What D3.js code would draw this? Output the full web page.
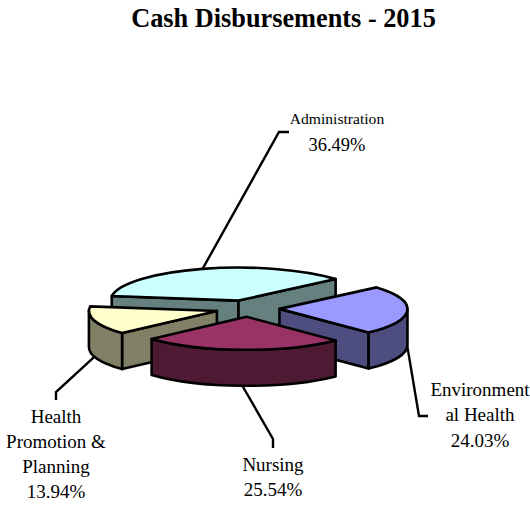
<!DOCTYPE html>
<html>
<head>
<meta charset="utf-8">
<script src="https://cdn.jsdelivr.net/npm/d3@7"></script>
<style>
  html, body { margin: 0; padding: 0; background: #fff; }
  text { font-family: "Liberation Serif", serif; fill: #000; }
</style>
</head>
<body>
<div id="chart"></div>
<script>
// Chart values, in pie order (clockwise)
var categories = ['Administration', 'Environmental Health', 'Nursing', 'Health Promotion & Planning'];
var shares = [36.49, 24.03, 25.54, 13.94];
var shareLabels = ['36.49%', '24.03%', '25.54%', '13.94%'];
var topColors = ['#CCFFFF', '#9999FF', '#993366', '#FFFFCC'];
var sideColors = ['#668080', '#4D4D80', '#4D1933', '#808066'];

// Wrapped the way the picture wraps them
var labelLines = [
    ['Administration', '36.49%'],
    ['Environment', 'al Health', '24.03%'],
    ['Nursing', '25.54%'],
    ['Health', 'Promotion &', 'Planning', '13.94%']
];

var width = 530, height = 508;

// Pie geometry
var cx = 247.5, cy = 308.5;
var rx = 128, ry = 33;
var depth = 36;
var explode = 0.25;
var startDeg = -82; // d3.pie angles start at 12 o'clock

// Label layout: knee and end of each leader, then text centre, first baseline, line step, font sizes
var labelLayout = [
    { knee: [279, 132], end: [289, 132], x: 337, y: 124, step: 27, size: 15.6, lastSize: 18.5 },
    { knee: [419, 416], end: [428, 416], x: 480, y: 395.5, step: 25.5, size: 19, lastSize: 19 },
    { knee: [273, 439], end: [273, 448], x: 273, y: 470.5, step: 25.5, size: 19, lastSize: 19 },
    { knee: [56, 392], end: [56, 400], x: 56, y: 422.5, step: 25.3, size: 19, lastSize: 19 }
];

var drawOrder = [0, 3, 1, 2]; // back to front

var svg = d3.select('#chart')
    .append('svg')
    .attr('width', width)
    .attr('height', height)
    .style('display', 'block');

svg.append('text')
    .attr('x', 283.5)
    .attr('y', 27)
    .attr('text-anchor', 'middle')
    .style('font-weight', 'bold')
    .style('font-size', '26.3px')
    .text('Cash Disbursements - 2015');

var pie = d3.pie()
    .sort(null)
    .startAngle(startDeg * Math.PI / 180)
    .endAngle((startDeg + 360) * Math.PI / 180);

var slices = pie(shares).map(function(d, i) {
    // Screen parameter: 0 is 3 o'clock, increasing clockwise
    var t0 = d.startAngle - Math.PI / 2;
    var t1 = d.endAngle - Math.PI / 2;
    var mid = (t0 + t1) / 2;
    return {
        index: i,
        t0: t0,
        t1: t1,
        mid: mid,
        ox: cx + rx * explode * Math.cos(mid),
        oy: cy + ry * explode * Math.sin(mid)
    };
});

function rim(s, t) {
    return [s.ox + rx * Math.cos(t), s.oy + ry * Math.sin(t)];
}

function topPath(s) {
    var a = rim(s, s.t0), b = rim(s, s.t1);
    var large = s.t1 - s.t0 > Math.PI ? 1 : 0;
    return 'M' + s.ox + ',' + s.oy + 'L' + a + 'A' + rx + ',' + ry + ' 0 ' + large + ' 1 ' + b + 'Z';
}

function facePath(s, t) {
    var p = rim(s, t);
    return 'M' + s.ox + ',' + s.oy + 'L' + p + 'L' + [p[0], p[1] + depth] +
        'L' + [s.ox, s.oy + depth] + 'Z';
}

// Outer wall, only the part facing the viewer (between 3 and 9 o'clock)
function wallPath(s) {
    var a = Math.max(s.t0, 0), b = Math.min(s.t1, Math.PI);
    if (b <= a) return null;
    var p = rim(s, a), q = rim(s, b);
    return 'M' + p + 'A' + rx + ',' + ry + ' 0 0 1 ' + q +
        'L' + [q[0], q[1] + depth] +
        'A' + rx + ',' + ry + ' 0 0 0 ' + [p[0], p[1] + depth] + 'Z';
}

var line = d3.line();

// Leaders first, the slices sit on top of their ends
slices.forEach(function(s) {
    var p = rim(s, s.mid);
    var facing = Math.sin(s.mid) > -0.1 ? depth : 0;
    var lay = labelLayout[s.index];
    svg.append('path')
        .attr('d', line([[p[0], p[1] + facing], lay.knee, lay.end]))
        .attr('fill', 'none')
        .attr('stroke', '#000')
        .attr('stroke-width', 2.4);
});

drawOrder.forEach(function(i) {
    var s = slices[i];
    var g = svg.append('g').attr('class', 'slice')
        .attr('stroke', '#000')
        .attr('stroke-width', 2.6)
        .attr('stroke-linejoin', 'round');

    // Cut faces, drawn only when they turn toward the viewer
    if (Math.sin(s.t0 - Math.PI / 2) > 0) {
        g.append('path').attr('d', facePath(s, s.t0)).attr('fill', sideColors[i]);
    }
    if (Math.sin(s.t1 + Math.PI / 2) > 0) {
        g.append('path').attr('d', facePath(s, s.t1)).attr('fill', sideColors[i]);
    }
    var wall = wallPath(s);
    if (wall) {
        g.append('path').attr('d', wall).attr('fill', sideColors[i]);
    }
    g.append('path').attr('d', topPath(s)).attr('fill', topColors[i]);
});

// Data labels
labelLines.forEach(function(lines, i) {
    var lay = labelLayout[i];
    lines.forEach(function(txt, k) {
        svg.append('text')
            .attr('x', lay.x)
            .attr('y', lay.y + k * lay.step)
            .attr('text-anchor', 'middle')
            .style('font-size', (k === lines.length - 1 ? lay.lastSize : lay.size) + 'px')
            .text(txt);
    });
});
</script>
</body>
</html>
